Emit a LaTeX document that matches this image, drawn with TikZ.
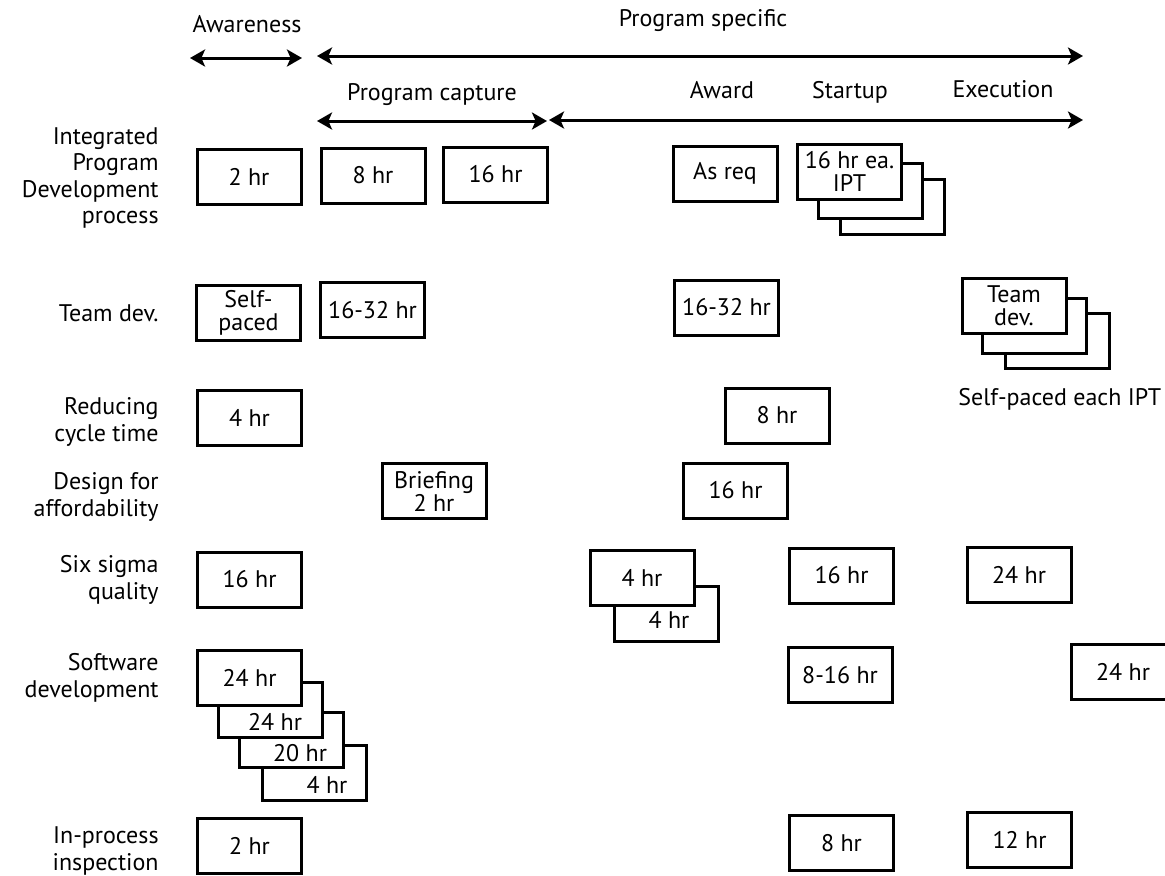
\documentclass[tikz,border=0pt]{standalone}
\usepackage{fontspec}
\setmainfont{PT Sans}
\usepackage{tikz}
\usetikzlibrary{arrows.meta}
\newcommand\lblfont{\fontsize{12}{13.25}\selectfont}
\newcommand\boxfont{\fontsize{12}{11.5}\selectfont}
\tikzset{
  box/.style={draw=black,line width=1.5pt,fill=white,align=center,font=\boxfont,inner sep=1pt,minimum width=52pt,minimum height=27.5pt},
  cardtxt/.style={font=\boxfont,inner sep=0pt},
  rowlbl/.style={anchor=east,align=right,font=\lblfont,inner sep=0pt},
  phase/.style={anchor=base,font=\lblfont,inner sep=0pt},
  note/.style={anchor=base west,font=\lblfont,inner sep=0pt},
  span/.style={{Stealth[length=7.5pt,width=8.5pt,inset=1.8pt]}-{Stealth[length=7.5pt,width=8.5pt,inset=1.8pt]},line width=1.5pt}
}

\begin{document}
\begin{tikzpicture}[x=0.5pt,y=-0.5pt]
  \clip (0,0) rectangle (1165,875);
  % phases along the top
  \node[phase] (aw) at (247,32) {Awareness};
  \node[phase] (ps) at (703,26) {Program specific};
  \node[phase] (pc) at (432,100) {Program capture};
  \node[phase] (awd) at (722,98) {Award};
  \node[phase] (st) at (850,98) {Startup};
  \node[phase] (ex) at (1003,97) {Execution};
  \coordinate (aw-l) at (190,58);  \coordinate (aw-r) at (302,58);
  \coordinate (ps-l) at (317,56);  \coordinate (ps-r) at (1083,56);
  \coordinate (pc-l) at (317,121); \coordinate (pc-r) at (547,121);
  \coordinate (ex-l) at (549,120); \coordinate (ex-r) at (1083,120);
  \draw[span] (aw-l) -- (aw-r);
  \draw[span] (ps-l) -- (ps-r);
  \draw[span] (pc-l) -- (pc-r);
  \draw[span] (ex-l) -- (ex-r);
  % row labels
  \node[rowlbl] (l-ipd) at (159,178) {Integrated\\Program\\Development\\process};
  \node[rowlbl] (l-td) at (159,313) {Team dev.};
  \node[rowlbl] (l-rct) at (159,422) {Reducing\\cycle time};
  \node[rowlbl] (l-dfa) at (159,497) {Design for\\affordability};
  \node[rowlbl] (l-ssq) at (159,580) {Six sigma\\quality};
  \node[rowlbl] (l-sw) at (159,678) {Software\\development};
  \node[rowlbl] (l-ipi) at (159,851) {In-process\\inspection};
  % integrated program development
  \node[box] (ipd1) at (249,176.5) {2 hr};
  \node[box] (ipd2) at (373,175.5) {8 hr};
  \node[box] (ipd3) at (495.5,174.5) {16 hr};
  \node[box] (ipd4) at (725,173.5) {As req};
  \node[box] (ipd5c) at (892.5,206.5) {};
  \node[box] (ipd5b) at (870,190.5) {};
  \node[box] (ipd5) at (849.5,171.5) {16 hr ea.\\IPT};
  % team development
  \node[box] (td1) at (248.5,312.5) {Self-\\paced};
  \node[box] (td2) at (372.5,310) {16-32 hr};
  \node[box] (td3) at (726.5,307.5) {16-32 hr};
  \node[box] (td4c) at (1057.5,341) {};
  \node[box] (td4b) at (1034.5,325.5) {};
  \node[box] (td4) at (1014,305.5) {Team\\dev.};
  \node[note] (td-note) at (958,405) {Self-paced each IPT};
  % reducing cycle time
  \node[box] (rct1) at (249.5,418) {4 hr};
  \node[box] (rct2) at (777,415.5) {8 hr};
  % design for affordability
  \node[box] (dfa1) at (434,491) {Briefing\\2 hr};
  \node[box] (dfa2) at (735.5,490.5) {16 hr};
  % six sigma quality
  \node[box] (ssq1) at (249.5,579.5) {16 hr};
  \node[box] (ssq2b) at (666,614) {};
  \node[cardtxt] (ssq2b-t) at (669,620) {4 hr};
  \node[box] (ssq2) at (642,578) {4 hr};
  \node[box] (ssq3) at (841.5,575.5) {16 hr};
  \node[box] (ssq4) at (1019,574.5) {24 hr};
  % software development
  \node[box] (sw1d) at (314,773) {};
  \node[cardtxt] (sw1d-t) at (327,784.5) {4 hr};
  \node[box] (sw1c) at (291,740) {};
  \node[cardtxt] (sw1c-t) at (300,753.5) {20 hr};
  \node[box] (sw1b) at (270,709.5) {};
  \node[cardtxt] (sw1b-t) at (275,722) {24 hr};
  \node[box] (sw1) at (249.5,677.5) {24 hr};
  \node[box] (sw2) at (840,675) {8-16 hr};
  \node[box] (sw3) at (1123,671.5) {24 hr};
  % in-process inspection
  \node[box] (ipi1) at (249.5,845.5) {2 hr};
  \node[box] (ipi2) at (841.5,843) {8 hr};
  \node[box] (ipi3) at (1019.5,839.5) {12 hr};
\end{tikzpicture}
\end{document}
